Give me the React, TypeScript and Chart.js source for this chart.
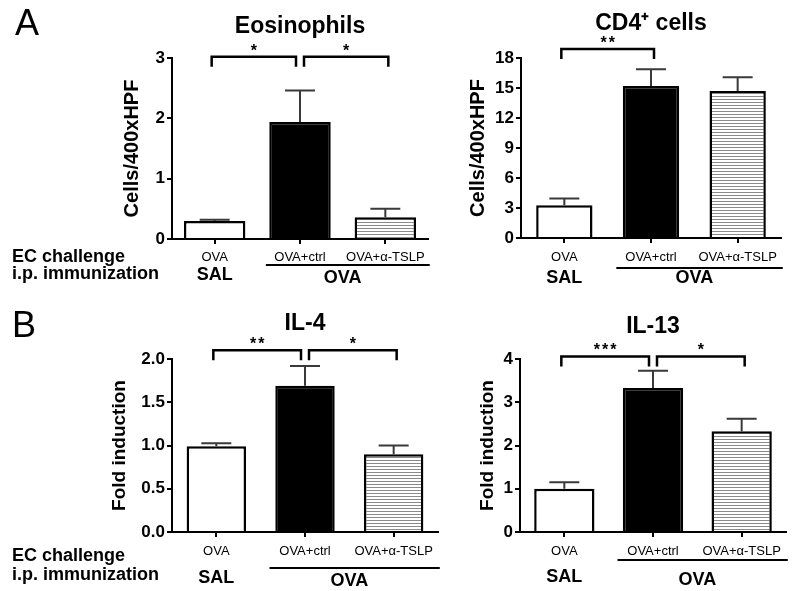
import React, { useEffect, useRef } from "react";
import { Chart, registerables } from "chart.js";

Chart.register(...registerables);

const FONT = "'Liberation Sans', Arial, Helvetica, sans-serif";

// ---------- data ----------
const categories = ["OVA", "OVA+ctrl", "OVA+α-TSLP"];
const groupLabels = ["SAL", "OVA"];
const rowLabels = ["EC challenge", "i.p. immunization"];

const eosMeans = [0.3, 1.94, 0.36];
const eosErrors = [0.02, 0.52, 0.14];
const eosTicks = [0, 1, 2, 3];
const eosSig: [number, number, string][] = [[0, 1, "*"], [1, 2, "*"]];
const eosBracket = 3.02;

const cd4Means = [3.27, 15.2, 14.7];
const cd4Errors = [0.67, 1.67, 1.37];
const cd4Ticks = [0, 3, 6, 9, 12, 15, 18];
const cd4Sig: [number, number, string][] = [[0, 1, "**"]];
const cd4Bracket = 18.9;

const il4Means = [0.99, 1.69, 0.9];
const il4Errors = [0.035, 0.23, 0.1];
const il4Ticks = [0, 0.5, 1, 1.5, 2];
const il4Sig: [number, number, string][] = [[0, 1, "**"], [1, 2, "*"]];
const il4Bracket = 2.1;

const il13Means = [1.0, 3.33, 2.33];
const il13Errors = [0.15, 0.4, 0.29];
const il13Ticks = [0, 1, 2, 3, 4];
const il13Sig: [number, number, string][] = [[0, 1, "***"], [1, 2, "*"]];
const il13Bracket = 4.06;

// ---------- layout ----------
type Cfg = {
  title: string;
  yTitle: string;
  yTitleSize: number;
  means: number[];
  errors: number[];
  ticks: number[];
  decimals: number;
  sig: [number, number, string][];
  bracket: number;
  box: { left: number; top: number; width: number; height: number };
  yAxisWidth: number;
  rightPad: number;
  titlePad: [number, number];
  xAxisHeight: number;
  yTitleCenter: number;
  xTickPad: number;
  barPct: number;
  group: { sal: number; ova: number; line: number };
  rows?: { ec: number; ip: number };
  letter?: { text: string; x: number; y: number };
};

const panels: Cfg[] = [
  {
    title: "Eosinophils",
    yTitle: "Cells/400xHPF",
    yTitleSize: 20,
    means: eosMeans,
    errors: eosErrors,
    ticks: eosTicks,
    decimals: 0,
    sig: eosSig,
    bracket: eosBracket,
    box: { left: 0, top: 0, width: 445, height: 295 },
    yAxisWidth: 172,
    rightPad: 17,
    titlePad: [13, 17.4],
    xAxisHeight: 56,
    yTitleCenter: 132,
    xTickPad: 6,
    barPct: 0.72,
    group: { sal: 280, ova: 283, line: 265 },
    rows: { ec: 262, ip: 279 },
    letter: { text: "A", x: 15, y: 35 },
  },
  {
    title: "CD4⁺ cells",
    yTitle: "Cells/400xHPF",
    yTitleSize: 20,
    means: cd4Means,
    errors: cd4Errors,
    ticks: cd4Ticks,
    decimals: 0,
    sig: cd4Sig,
    bracket: cd4Bracket,
    box: { left: 445, top: 0, width: 355, height: 295 },
    yAxisWidth: 76,
    rightPad: 19,
    titlePad: [10.2, 20.2],
    xAxisHeight: 57,
    yTitleCenter: 33,
    xTickPad: 7,
    barPct: 0.65,
    group: { sal: 283, ova: 283, line: 268 },
  },
  {
    title: "IL-4",
    yTitle: "Fold induction",
    yTitleSize: 19,
    means: il4Means,
    errors: il4Errors,
    ticks: il4Ticks,
    decimals: 1,
    sig: il4Sig,
    bracket: il4Bracket,
    box: { left: 0, top: 295, width: 445, height: 296 },
    yAxisWidth: 172,
    rightPad: 7,
    titlePad: [15.2, 21.2],
    xAxisHeight: 59,
    yTitleCenter: 120,
    xTickPad: 7,
    barPct: 0.67,
    group: { sal: 288, ova: 291, line: 273 },
    rows: { ec: 266, ip: 285 },
    letter: { text: "B", x: 12, y: 42 },
  },
  {
    title: "IL-13",
    yTitle: "Fold induction",
    yTitleSize: 19,
    means: il13Means,
    errors: il13Errors,
    ticks: il13Ticks,
    decimals: 0,
    sig: il13Sig,
    bracket: il13Bracket,
    box: { left: 445, top: 295, width: 355, height: 296 },
    yAxisWidth: 75,
    rightPad: 14,
    titlePad: [18.2, 18.2],
    xAxisHeight: 59,
    yTitleCenter: 43,
    xTickPad: 7,
    barPct: 0.68,
    group: { sal: 287, ova: 290, line: 265 },
  },
];

function Panel({ cfg }: { cfg: Cfg }) {
  const ref = useRef<HTMLCanvasElement>(null);

  useEffect(() => {
    const canvas = ref.current!;
    const ctx0 = canvas.getContext("2d")!;
    const pc = document.createElement("canvas");
    pc.width = 4;
    pc.height = 3;
    const pg = pc.getContext("2d")!;
    pg.fillStyle = "#ffffff";
    pg.fillRect(0, 0, 4, 3);
    pg.fillStyle = "#8a8a8a";
    pg.fillRect(0, 0, 4, 1);
    const stripes = ctx0.createPattern(pc, "repeat");

    const annot = {
      id: "annot",
      afterDatasetsDraw(chart: any) {
        const ctx = chart.ctx as CanvasRenderingContext2D;
        const meta = chart.getDatasetMeta(0);
        const y = chart.scales.y;
        ctx.save();
        ctx.strokeStyle = "#3a3a3a";
        ctx.lineWidth = 2;
        meta.data.forEach((bar: any, i: number) => {
          const x = bar.x;
          const y0 = y.getPixelForValue(cfg.means[i]);
          const y1 = y.getPixelForValue(cfg.means[i] + cfg.errors[i]);
          const cap = 30;
          ctx.beginPath();
          ctx.moveTo(x, y0);
          ctx.lineTo(x, y1);
          ctx.moveTo(x - cap / 2, y1);
          ctx.lineTo(x + cap / 2, y1);
          ctx.stroke();
        });
        // re-draw the x axis line over the bar bottoms
        const a = chart.chartArea;
        ctx.strokeStyle = "#000";
        ctx.lineWidth = 2;
        ctx.beginPath();
        ctx.moveTo(a.left - 1, a.bottom);
        ctx.lineTo(a.right, a.bottom);
        ctx.stroke();
        ctx.restore();
      },
      afterDraw(chart: any) {
        const ctx = chart.ctx as CanvasRenderingContext2D;
        const meta = chart.getDatasetMeta(0);
        const y = chart.scales.y;
        const xs = meta.data.map((b: any) => b.x);
        const band = xs[1] - xs[0];
        ctx.save();
        // significance brackets
        const by = y.getPixelForValue(cfg.bracket);
        const shared = (idx: number, self: number) =>
          cfg.sig.some((s, k) => k !== self && (s[0] === idx || s[1] === idx));
        cfg.sig.forEach(([a, b, label], k) => {
          const x1 = xs[a] + (shared(a, k) ? 4 : -3);
          const x2 = xs[b] - (shared(b, k) ? 4 : -3);
          ctx.strokeStyle = "#000";
          ctx.lineWidth = 2.5;
          ctx.beginPath();
          ctx.moveTo(x1, by + 10);
          ctx.lineTo(x1, by);
          ctx.lineTo(x2, by);
          ctx.lineTo(x2, by + 10);
          ctx.stroke();
          ctx.fillStyle = "#000";
          ctx.font = `bold 16px ${FONT}`;
          ctx.textAlign = "center";
          ctx.textBaseline = "alphabetic";
          (ctx as any).letterSpacing = "2px";
          ctx.fillText(label, (x1 + x2) / 2 + 1, by - 1);
          (ctx as any).letterSpacing = "0px";
        });
        // group labels
        ctx.fillStyle = "#000";
        ctx.font = `bold 18px ${FONT}`;
        ctx.textAlign = "center";
        ctx.textBaseline = "alphabetic";
        ctx.fillText(groupLabels[0], xs[0], cfg.group.sal);
        ctx.fillText(groupLabels[1], (xs[1] + xs[2]) / 2, cfg.group.ova);
        ctx.strokeStyle = "#000";
        ctx.lineWidth = 2;
        ctx.beginPath();
        ctx.moveTo(xs[1] - band * 0.4, cfg.group.line);
        ctx.lineTo(xs[2] + band * 0.52, cfg.group.line);
        ctx.stroke();
        // row labels
        if (cfg.rows) {
          ctx.textAlign = "left";
          ctx.fillText(rowLabels[0], 12, cfg.rows.ec);
          ctx.fillText(rowLabels[1], 12, cfg.rows.ip);
        }
        if (cfg.letter) {
          ctx.font = `36px ${FONT}`;
          ctx.textAlign = "left";
          ctx.fillText(cfg.letter.text, cfg.letter.x, cfg.letter.y);
        }
        ctx.restore();
      },
    };

    const chart = new Chart(canvas, {
      type: "bar",
      data: {
        labels: categories,
        datasets: [
          {
            data: cfg.means,
            backgroundColor: ["#ffffff", "#000000", stripes as any],
            borderColor: "#000000",
            borderWidth: 2.5,
            borderSkipped: "start",
            inflateAmount: 0,
            barPercentage: cfg.barPct,
            categoryPercentage: 1,
          },
        ],
      },
      options: {
        responsive: false,
        animation: false,
        devicePixelRatio: 1,
        layout: {
          padding: { left: 0, right: cfg.rightPad, top: 0, bottom: 0 },
        },
        plugins: {
          legend: { display: false },
          tooltip: { enabled: false },
          title: {
            display: true,
            text: cfg.title,
            color: "#000",
            fullSize: false,
            font: { family: FONT, size: 23, weight: "bold" },
            padding: { top: cfg.titlePad[0], bottom: cfg.titlePad[1] },
          },
        },
        scales: {
          x: {
            offset: true,
            border: { display: true, color: "#000", width: 2 },
            grid: {
              display: true,
              drawOnChartArea: false,
              drawTicks: true,
              tickLength: 5,
              offset: false,
              color: "#000",
              lineWidth: 2,
            },
            ticks: {
              color: "#000",
              font: { family: FONT, size: 13 },
              padding: cfg.xTickPad,
              maxRotation: 0,
              autoSkip: false,
            },
            afterFit: (s: any) => {
              s.height = cfg.xAxisHeight;
            },
          },
          y: {
            min: cfg.ticks[0],
            max: cfg.ticks[cfg.ticks.length - 1],
            border: { display: true, color: "#000", width: 2 },
            grid: {
              display: true,
              drawOnChartArea: false,
              drawTicks: true,
              tickLength: 5,
              color: "#000",
              lineWidth: 2,
            },
            ticks: {
              color: "#000",
              font: { family: FONT, size: 17, weight: "bold" },
              padding: 2,
              callback: (v: any) => Number(v).toFixed(cfg.decimals),
            },
            afterBuildTicks: (s: any) => {
              s.ticks = cfg.ticks.map((v) => ({ value: v }));
            },
            title: {
              display: true,
              text: cfg.yTitle,
              color: "#000",
              font: { family: FONT, size: cfg.yTitleSize, weight: "bold" },
              padding: {
                top: cfg.yTitleCenter - (cfg.yTitleSize * 1.2) / 2,
                bottom: 0,
              },
            },
            afterFit: (s: any) => {
              s.width = cfg.yAxisWidth;
            },
          },
        },
      },
      plugins: [annot],
    } as any);

    return () => chart.destroy();
  }, [cfg]);

  return (
    <canvas
      ref={ref}
      width={cfg.box.width}
      height={cfg.box.height}
      style={{
        position: "absolute",
        left: cfg.box.left,
        top: cfg.box.top,
        width: cfg.box.width,
        height: cfg.box.height,
      }}
    />
  );
}

export default function App() {
  return (
    <div
      style={{
        position: "absolute",
        left: 0,
        top: 0,
        width: 800,
        height: 591,
        background: "#ffffff",
        overflow: "hidden",
      }}
    >
      {panels.map((p, i) => (
        <Panel key={i} cfg={p} />
      ))}
    </div>
  );
}
